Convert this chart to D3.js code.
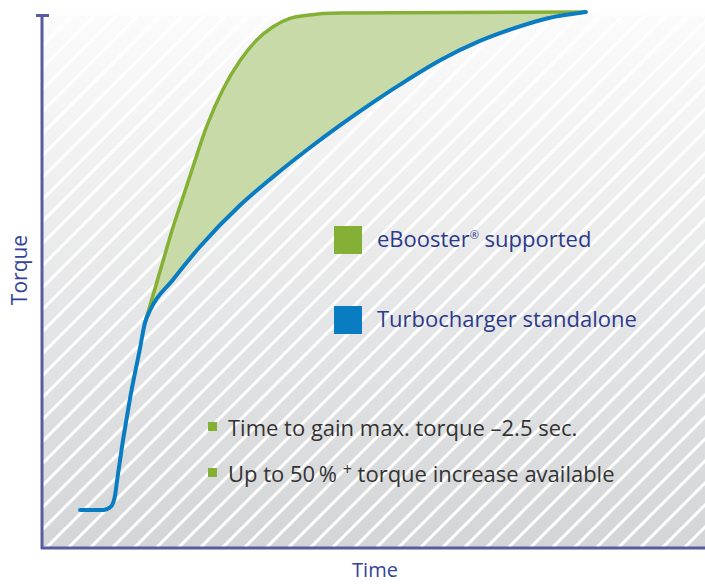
<!DOCTYPE html>
<html lang="en">
  <head>
    <meta charset="UTF-8" />
    <title>eBooster torque</title>
    <script src="https://d3js.org/d3.v7.min.js"></script>
    <style>
      body { margin: 0; background: #fff; }
      text { font-family: 'Open Sans', sans-serif; }
    </style>
  </head>
  <body>
    <svg width="705" height="584"></svg>
    <script>
      // turbocharger alone (time %, torque %)
      var blueTime = [5.6, 9.1, 10.3, 10.9, 11.2, 13.1, 14.6, 15.4, 16.2, 19.6, 23.7, 29.8, 34.7, 39.9, 44.9, 49.9, 55.0, 60.0, 66.0, 71.0, 76.1, 82.0]
      var blueTorque = [7.1, 7.1, 7.8, 9.9, 12.7, 27.6, 36.9, 42.0, 44.4, 50.0, 56.2, 64.0, 69.2, 74.3, 78.9, 83.2, 87.3, 91.0, 94.6, 96.9, 98.8, 100]
      // with eBooster
      var greenTime = [15.4, 18.1, 19.6, 21.0, 22.2, 24.8, 27.2, 29.8, 32.3, 34.7, 37.3, 39.9, 44.9, 82.0]
      var greenTorque = [42.0, 53.4, 59.7, 64.9, 69.4, 78.9, 85.6, 91.0, 94.8, 97.2, 98.8, 99.4, 99.8, 100]

      var legendLabels = ['eBooster', 'Turbocharger standalone']
      var notes = ['Time to gain max. torque \u20132.5 sec.', 'Up to 50\u2009% ']

      var svg = d3.select('svg')
      var x = d3.scaleLinear().domain([0, 100]).range([43, 705])
      var y = d3.scaleLinear().domain([0, 100]).range([548, 12])

      var defs = svg.append('defs')
      var grad = defs.append('linearGradient').attr('id', 'bg')
        .attr('x1', 0).attr('y1', 0).attr('x2', 0).attr('y2', 1)
      grad.append('stop').attr('offset', '0%').attr('stop-color', '#fbfbfb')
      grad.append('stop').attr('offset', '100%').attr('stop-color', '#d4d5d7')

      var pat = defs.append('pattern').attr('id', 'stripes')
        .attr('patternUnits', 'userSpaceOnUse')
        .attr('width', 22).attr('height', 22)
      pat.append('path')
        .attr('d', 'M-5.5,5.5L5.5,-5.5M0,22L22,0M16.5,27.5L27.5,16.5')
        .attr('stroke', '#fff').attr('stroke-width', 3)

      // plot background
      svg.append('rect').attr('x', 43).attr('y', 15).attr('width', 662).attr('height', 532)
        .attr('fill', 'url(#bg)')
      svg.append('rect').attr('x', 43).attr('y', 15).attr('width', 662).attr('height', 532)
        .attr('fill', 'url(#stripes)')

      var blue = blueTime.map(function(t, i) { return [t, blueTorque[i]] })
      var green = greenTime.map(function(t, i) { return [t, greenTorque[i]] })

      // region above the blue curve, used to clip the green fill
      defs.append('clipPath').attr('id', 'aboveBlue')
        .append('path')
        .attr('d', d3.area().curve(d3.curveMonotoneX)
          .x(function(d) { return x(d[0]) })
          .y0(0)
          .y1(function(d) { return y(d[1]) })(blue))

      svg.append('path')
        .attr('clip-path', 'url(#aboveBlue)')
        .attr('d', d3.area().curve(d3.curveMonotoneX)
          .x(function(d) { return x(d[0]) })
          .y0(548)
          .y1(function(d) { return y(d[1]) })(green))
        .attr('fill', '#c9daa9')

      var line = d3.line().curve(d3.curveMonotoneX)
        .x(function(d) { return x(d[0]) })
        .y(function(d) { return y(d[1]) })

      svg.append('path').attr('d', line(green))
        .attr('fill', 'none').attr('stroke', '#84b135').attr('stroke-width', 3.5)
        .attr('stroke-linecap', 'round')
      svg.append('path').attr('d', line(blue))
        .attr('fill', 'none').attr('stroke', '#0a7cc2').attr('stroke-width', 4)
        .attr('stroke-linecap', 'round')

      // axes
      var axisColor = '#575ca1'
      svg.append('line').attr('x1', 42).attr('y1', 15).attr('x2', 42).attr('y2', 549)
        .attr('stroke', axisColor).attr('stroke-width', 3)
      svg.append('line').attr('x1', 36).attr('y1', 15.5).attr('x2', 49).attr('y2', 15.5)
        .attr('stroke', axisColor).attr('stroke-width', 3)
      svg.append('line').attr('x1', 41).attr('y1', 548).attr('x2', 705).attr('y2', 548)
        .attr('stroke', axisColor).attr('stroke-width', 3)

      svg.append('text').text('Torque')
        .attr('transform', 'translate(27,270) rotate(-90)')
        .attr('text-anchor', 'middle').attr('font-size', 21).attr('fill', '#34439a')
      svg.append('text').text('Time')
        .attr('x', 375).attr('y', 577)
        .attr('text-anchor', 'middle').attr('font-size', 20).attr('fill', '#34439a')

      // legend
      var legendColors = ['#84b135', '#0a7cc2']
      legendLabels.forEach(function(label, i) {
        var top = 226 + i * 80
        svg.append('rect').attr('x', 334).attr('y', top).attr('width', 28).attr('height', 28)
          .attr('fill', legendColors[i])
        var t = svg.append('text').attr('x', 377).attr('y', top + 21)
          .attr('font-size', 22).attr('fill', '#2d3a8a')
        t.append('tspan').text(label)
        if (i === 0) {
          t.append('tspan').text('\u00ae').attr('font-size', 11).attr('dy', -8)
          t.append('tspan').text(' supported').attr('dy', 8)
        }
      })

      // bullet notes
      notes.forEach(function(note, i) {
        var base = 436 + i * 46
        svg.append('rect').attr('x', 208).attr('y', base - 14).attr('width', 9).attr('height', 9)
          .attr('fill', '#84b135')
        var t = svg.append('text').attr('x', 228).attr('y', base)
          .attr('font-size', 22).attr('fill', '#333')
        t.append('tspan').text(note)
        if (i === 1) {
          t.append('tspan').text('+').attr('font-size', 16).attr('dy', -7)
          t.append('tspan').text(' torque increase available').attr('dy', 7)
        }
      })
    </script>
  </body>
</html>
